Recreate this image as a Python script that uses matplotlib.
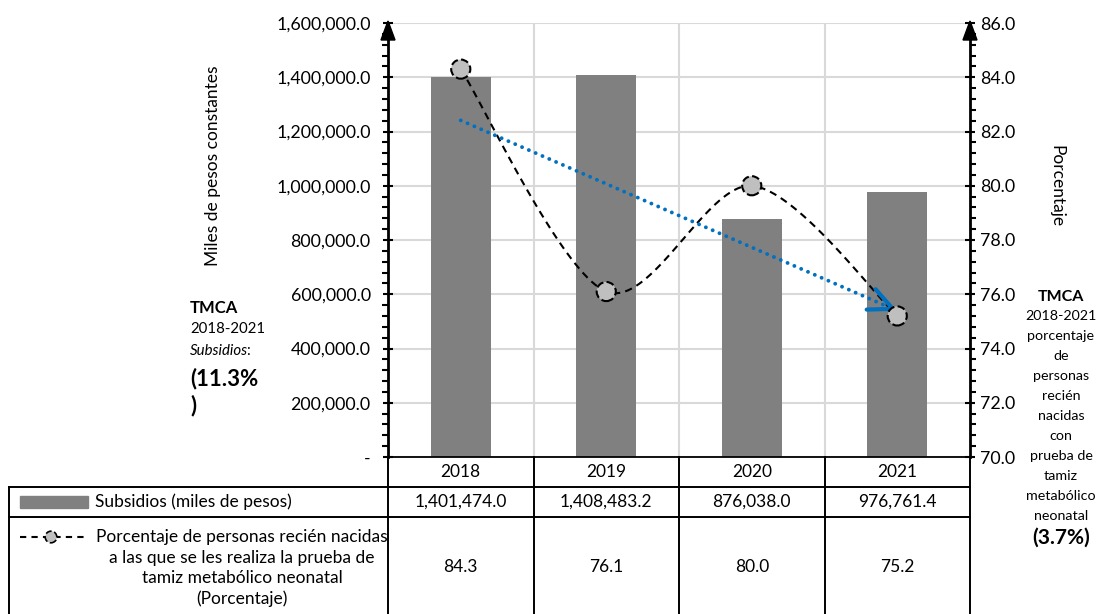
import matplotlib.pyplot as plt
import numpy as np
from matplotlib.patches import Rectangle, Polygon
from matplotlib.ticker import FuncFormatter, MultipleLocator

plt.rcParams["font.family"] = ["Lato", "DejaVu Sans"]

years = ["2018", "2019", "2020", "2021"]
subsidios = [1401474.0, 1408483.2, 876038.0, 976761.4]
porcentaje = [84.3, 76.1, 80.0, 75.2]
tmca_subsidios = "(11.3%"
tmca_porcentaje = "(3.7%)"
tmca_right_lines = ["2018-2021", "porcentaje", "de", "personas", "recién", "nacidas",
                    "con", "prueba de", "tamiz", "metabólico", "neonatal"]
pct_label = ["Porcentaje de personas recién nacidas",
             "a las que se les realiza la prueba de",
             "tamiz metabólico neonatal",
             "(Porcentaje)"]

BAR = "#808080"
MARK = "#BFBFBF"
BLUE = "#0070C0"
GRID = "#D9D9D9"

W, H = 1097, 614
L, R, T, B = 388, 970, 23, 457
fig = plt.figure(figsize=(W / 100, H / 100), dpi=100)
ax = fig.add_axes([L / W, 1 - B / H, (R - L) / W, (B - T) / H])
ax.set_facecolor("none")

x = np.arange(len(years))
ax.bar(x, subsidios, width=0.41, color=BAR, zorder=2)
ax.set_xlim(-0.5, len(years) - 0.5)
ax.set_ylim(0, 1.6e6)
ax.set_yticks(np.arange(0, 1.6e6 + 1, 2e5))
ax.yaxis.set_minor_locator(MultipleLocator(4e4))
ax.yaxis.set_major_formatter(FuncFormatter(lambda v, p: "-" if v == 0 else f"{v:,.1f}"))
ax.set_xticks([])
ax.grid(axis="y", color=GRID, lw=1.5, zorder=0)
for b in x[:-1] + 0.5:
    ax.axvline(b, color=GRID, lw=1.5, zorder=0)
ax.tick_params(axis="y", which="major", direction="inout", length=7, width=1.5,
               labelsize=12.8, pad=9)
ax.tick_params(axis="y", which="minor", direction="out", length=4, width=1.5)
for s in ("top", "right"):
    ax.spines[s].set_visible(False)
ax.spines["left"].set_linewidth(2)
ax.spines["bottom"].set_linewidth(1.3)

ax2 = ax.twinx()
ax2.set_ylim(70, 86)
ax2.set_yticks(np.arange(70, 86.1, 2))
ax2.yaxis.set_minor_locator(MultipleLocator(0.4))
ax2.yaxis.set_major_formatter(FuncFormatter(lambda v, p: f"{v:.1f}"))
ax2.tick_params(axis="y", which="major", direction="inout", length=7, width=1.5,
                labelsize=12.8, pad=4)
ax2.tick_params(axis="y", which="minor", direction="out", length=4, width=1.5)
for s in ("top", "left", "bottom"):
    ax2.spines[s].set_visible(False)
ax2.spines["right"].set_linewidth(2)


def smooth(px, py, n=40, k=6.5):
    # Bezier through the points (Catmull-Rom style tangents), in display space
    pts = ax2.transData.transform(np.column_stack([px, py]))
    ext = np.vstack([pts[0], pts, pts[-1]])
    t = np.linspace(0, 1, n)[:, None]
    out = []
    for i in range(len(pts) - 1):
        p0, p1, p2, p3 = ext[i], ext[i + 1], ext[i + 2], ext[i + 3]
        c1 = p1 + (p2 - p0) / k
        c2 = p2 - (p3 - p1) / k
        seg = ((1 - t) ** 3 * p1 + 3 * (1 - t) ** 2 * t * c1
               + 3 * (1 - t) * t ** 2 * c2 + t ** 3 * p2)
        out.append(seg if i == 0 else seg[1:])
    out = np.vstack(out)
    return ax2.transData.inverted().transform(out).T


sx, sy = smooth(x, porcentaje)
ax2.plot(sx, sy, color="black", lw=1.5, dashes=(3.5, 2.5), zorder=3)

# linear trend of the percentage series
slope, icpt = np.polyfit(x, porcentaje, 1)
tx = np.array([x[0], x[-1]])
ty = slope * tx + icpt
ax2.plot(tx, ty, color=BLUE, lw=2.8, linestyle=(0, (0.01, 1.9)),
         dash_capstyle="round", zorder=4)
ax2.annotate("", xy=(tx[1], ty[1]),
             xytext=(tx[1] - 0.02, ty[1] - slope * 0.02),
             arrowprops=dict(arrowstyle="->,head_length=1.7,head_width=0.8",
                             color=BLUE, lw=3, shrinkA=0, shrinkB=0), zorder=4)

ax2.scatter(x, porcentaje, s=190, c=MARK, edgecolors="black", linewidths=1.5,
            linestyles="--", zorder=5)

# overlay in pixel coordinates for table, legend keys and side notes
ov = fig.add_axes([0, 0, 1, 1], zorder=10)
ov.set_xlim(0, W)
ov.set_ylim(H, 0)
ov.axis("off")
ov.patch.set_visible(False)

cols = L + (R - L) * np.arange(len(years) + 1) / len(years)
centers = (cols[:-1] + cols[1:]) / 2
y_head, y_r1, y_r2 = 457, 487, 517
lw_t = 1.4
for c in cols:
    ov.plot([c, c], [y_head, H], color="black", lw=lw_t)
ov.plot([9, R], [y_r1, y_r1], color="black", lw=lw_t)
ov.plot([9, R], [y_r2, y_r2], color="black", lw=lw_t)
ov.plot([9, 9], [y_r1, H], color="black", lw=lw_t)

fs = 12.5
for cx, yr, s, p in zip(centers, years, subsidios, porcentaje):
    ov.text(cx, 472, yr, ha="center", va="center", fontsize=fs)
    ov.text(cx, 502, f"{s:,.1f}", ha="center", va="center", fontsize=fs)
    ov.text(cx, 567, f"{p:.1f}", ha="center", va="center", fontsize=fs)

ov.add_patch(Rectangle((20, 496), 68, 12, color=BAR))
ov.text(95, 502, "Subsidios (miles de pesos)", ha="left", va="center", fontsize=fs)
ov.plot([20, 88], [537, 537], color="black", lw=1.5, dashes=(3, 2.5))
ov.scatter([51], [537], s=70, c=MARK, edgecolors="black", linewidths=1.2,
           linestyles="--", zorder=5)
for i, line in enumerate(pct_label):
    ov.text(242, 537 + i * 20.5, line, ha="center", va="center", fontsize=fs)

# axis titles
ov.text(213, 166, "Miles de pesos constantes", rotation=90, ha="center",
        va="center", fontsize=12.5)
ov.text(1056, 186, "Porcentaje", rotation=270, ha="center", va="center",
        fontsize=12.5)

# axis arrows
for ax_x in (L, R):
    ov.add_patch(Polygon([(ax_x - 7, 40), (ax_x + 7, 40), (ax_x, 21)],
                         closed=True, color="black"))

# growth-rate notes
ov.text(190, 308, "TMCA", ha="left", va="center", fontsize=12, fontweight="bold")
ov.text(190, 329, "2018-2021", ha="left", va="center", fontsize=10.8)
t = ov.text(190, 351, "Subsidios", ha="left", va="center", fontsize=10.8,
            fontstyle="italic")
ov.annotate(":", xycoords=t, xy=(1, 0.5), xytext=(-1.5, 0),
            textcoords="offset points", va="center", ha="left", fontsize=10.8)
ov.text(190, 379, tmca_subsidios, ha="left", va="center", fontsize=16,
        fontweight="bold")
ov.text(190, 406, ")", ha="left", va="center", fontsize=16, fontweight="bold")

ov.text(1061, 297, "TMCA", ha="center", va="center", fontsize=11.5,
        fontweight="bold")
for i, line in enumerate(tmca_right_lines):
    ov.text(1061, 316 + i * 20, line, ha="center", va="center", fontsize=10.3)
ov.text(1061, 538, tmca_porcentaje, ha="center", va="center", fontsize=15,
        fontweight="bold")

fig.savefig("out.png", dpi=100)
